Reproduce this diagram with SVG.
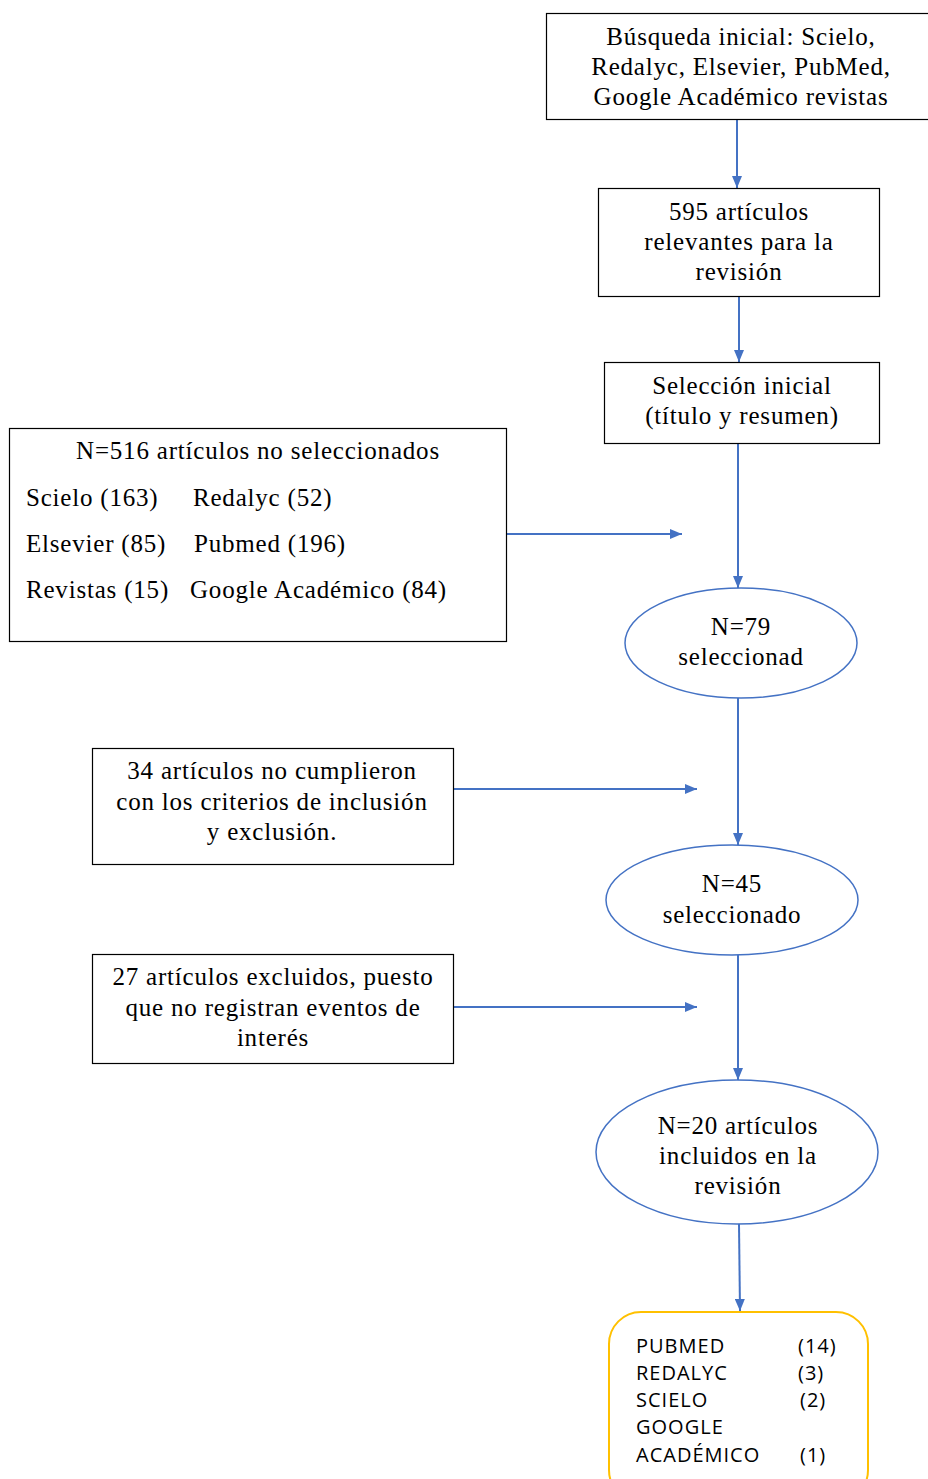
<svg xmlns="http://www.w3.org/2000/svg" width="928" height="1479" viewBox="0 0 928 1479">
<style>
.box{fill:#fff;stroke:#000;stroke-width:1.2}
.ell{fill:#fff;stroke:#4472C4;stroke-width:1.5}
.t{font-family:"Liberation Serif","Times New Roman",serif;font-size:25px;letter-spacing:0.8px;fill:#000}
.c{text-anchor:middle}
.s{font-family:"Open Sans","Liberation Sans",sans-serif;font-size:20px;letter-spacing:1px;fill:#000}
.con{stroke:#4472C4;stroke-width:2;fill:none;marker-end:url(#ah)}
</style>
<defs>
<marker id="ah" markerWidth="12" markerHeight="10" refX="12" refY="5" orient="auto" markerUnits="userSpaceOnUse">
<path d="M0,0 L12,5 L0,10 z" fill="#4472C4"/>
</marker>
</defs>
<rect width="928" height="1479" fill="#fff"/>
<g id="connectors">
<line class="con" x1="737" y1="119" x2="737" y2="188"/>
<line class="con" x1="739" y1="292" x2="739" y2="362"/>
<line class="con" x1="738" y1="443" x2="738" y2="588"/>
<line class="con" x1="507" y1="534" x2="682" y2="534"/>
<line class="con" x1="738" y1="698" x2="738" y2="845"/>
<line class="con" x1="454" y1="789" x2="697" y2="789"/>
<line class="con" x1="738" y1="955" x2="738" y2="1080"/>
<line class="con" x1="454" y1="1007" x2="697" y2="1007"/>
<line class="con" x1="739" y1="1224" x2="740" y2="1311"/>
</g>
<g id="busqueda">
<rect class="box" x="546.5" y="13.5" width="390" height="106"/>
<text class="t c" x="741" y="45">Búsqueda inicial: Scielo,</text>
<text class="t c" x="741" y="75">Redalyc, Elsevier, PubMed,</text>
<text class="t c" x="741" y="105">Google Académico revistas</text>
</g>
<g id="relevantes">
<rect class="box" x="598.5" y="188.5" width="281" height="108"/>
<text class="t c" x="739" y="220">595 artículos</text>
<text class="t c" x="739" y="250">relevantes para la</text>
<text class="t c" x="739" y="280">revisión</text>
</g>
<g id="seleccion">
<rect class="box" x="604.5" y="362.5" width="275" height="81"/>
<text class="t c" x="742" y="394">Selección inicial</text>
<text class="t c" x="742" y="424">(título y resumen)</text>
</g>
<g id="no-seleccionados">
<rect class="box" x="9.5" y="428.5" width="497" height="213"/>
<text class="t c" x="258" y="459">N=516 artículos no seleccionados</text>
<text class="t" x="26" y="506">Scielo (163)</text>
<text class="t" x="193" y="506">Redalyc (52)</text>
<text class="t" x="26" y="552">Elsevier (85)</text>
<text class="t" x="194" y="552">Pubmed (196)</text>
<text class="t" x="26" y="598">Revistas (15)</text>
<text class="t" x="190" y="598">Google Académico (84)</text>
</g>
<g id="n79">
<ellipse class="ell" cx="741" cy="643" rx="116" ry="55"/>
<text class="t c" x="741" y="635">N=79</text>
<text class="t c" x="741" y="665">seleccionad</text>
</g>
<g id="criterios">
<rect class="box" x="92.5" y="748.5" width="361" height="116"/>
<text class="t c" x="272" y="779">34 artículos no cumplieron</text>
<text class="t c" x="272" y="810">con los criterios de inclusión</text>
<text class="t c" x="272" y="840">y exclusión.</text>
</g>
<g id="n45">
<ellipse class="ell" cx="732" cy="900" rx="126" ry="55"/>
<text class="t c" x="732" y="892">N=45</text>
<text class="t c" x="732" y="923">seleccionado</text>
</g>
<g id="excluidos">
<rect class="box" x="92.5" y="954.5" width="361" height="109"/>
<text class="t c" x="273" y="985">27 artículos excluidos, puesto</text>
<text class="t c" x="273" y="1016">que no registran eventos de</text>
<text class="t c" x="273" y="1046">interés</text>
</g>
<g id="n20">
<ellipse class="ell" cx="737" cy="1152" rx="141" ry="72"/>
<text class="t c" x="738" y="1134">N=20 artículos</text>
<text class="t c" x="738" y="1164">incluidos en la</text>
<text class="t c" x="738" y="1194">revisión</text>
</g>
<g id="resultados">
<rect x="609" y="1312" width="259" height="190" rx="32" ry="32" fill="#fff" stroke="#FFC000" stroke-width="2"/>
<text class="s" x="636" y="1353">PUBMED</text>
<text class="s" x="798" y="1353">(14)</text>
<text class="s" x="636" y="1380">REDALYC</text>
<text class="s" x="798" y="1380">(3)</text>
<text class="s" x="636" y="1407">SCIELO</text>
<text class="s" x="800" y="1407">(2)</text>
<text class="s" x="636" y="1434">GOOGLE</text>
<text class="s" x="636" y="1462">ACADÉMICO</text>
<text class="s" x="800" y="1462">(1)</text>
</g>
</svg>
